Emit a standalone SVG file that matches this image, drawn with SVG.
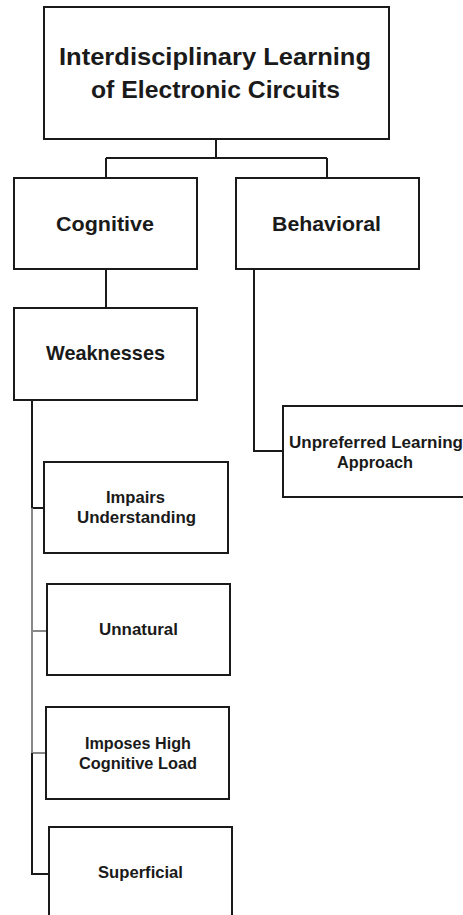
<svg xmlns="http://www.w3.org/2000/svg" width="463" height="915" viewBox="0 0 463 915">
<style>
.box{fill:#fff;stroke:#1a1a1a;stroke-width:2}
.t{font-family:"Liberation Sans",Arial,sans-serif;font-weight:bold;fill:#1a1a1a;text-anchor:middle}
.big{font-size:24px}
.mid{font-size:21px}
.sm{font-size:16.5px}
.c{fill:none;stroke:#1a1a1a;stroke-width:2}
.g{fill:none;stroke:#888;stroke-width:2}
</style>
<rect width="463" height="915" fill="#fff"/>
<g id="connectors">
<path class="c" d="M216,139 V158 M106,158 H327 M106,158 V178 M327,158 V178"/>
<path class="c" d="M106,269 V308"/>
<path class="c" d="M254,269 V451 H283"/>
<path class="c" d="M32,400 V508 H44"/>
<path class="g" d="M32,508 V753 M32,631 H47 M32,753 H46"/>
<path class="c" d="M32,753 V874 H49"/>
</g>
<g id="root">
<rect class="box" x="44" y="7" width="345" height="132"/>
<text class="t big" x="215" y="65" textLength="312" lengthAdjust="spacingAndGlyphs">Interdisciplinary Learning</text>
<text class="t big" x="215.5" y="98" textLength="249" lengthAdjust="spacingAndGlyphs">of Electronic Circuits</text>
</g>
<g id="cognitive">
<rect class="box" x="14" y="178" width="183" height="91"/>
<text class="t mid" x="105" y="231" textLength="98" lengthAdjust="spacingAndGlyphs">Cognitive</text>
</g>
<g id="behavioral">
<rect class="box" x="236" y="178" width="183" height="91"/>
<text class="t mid" x="326.5" y="231" textLength="109" lengthAdjust="spacingAndGlyphs">Behavioral</text>
</g>
<g id="weaknesses">
<rect class="box" x="14" y="308" width="183" height="92"/>
<text class="t mid" x="105.5" y="360" textLength="119" lengthAdjust="spacingAndGlyphs">Weaknesses</text>
</g>
<g id="unpreferred">
<rect class="box" x="283" y="406" width="184" height="91"/>
<text class="t sm" x="376" y="448" textLength="174" lengthAdjust="spacingAndGlyphs">Unpreferred Learning</text>
<text class="t sm" x="375" y="468" textLength="76" lengthAdjust="spacingAndGlyphs">Approach</text>
</g>
<g id="impairs">
<rect class="box" x="44" y="462" width="184" height="91"/>
<text class="t sm" x="135.5" y="503" textLength="59" lengthAdjust="spacingAndGlyphs">Impairs</text>
<text class="t sm" x="136.5" y="523" textLength="119" lengthAdjust="spacingAndGlyphs">Understanding</text>
</g>
<g id="unnatural">
<rect class="box" x="47" y="584" width="183" height="91"/>
<text class="t sm" x="138.5" y="635" textLength="79" lengthAdjust="spacingAndGlyphs">Unnatural</text>
</g>
<g id="imposes">
<rect class="box" x="46" y="707" width="183" height="92"/>
<text class="t sm" x="138" y="749" textLength="106" lengthAdjust="spacingAndGlyphs">Imposes High</text>
<text class="t sm" x="138" y="769" textLength="118" lengthAdjust="spacingAndGlyphs">Cognitive Load</text>
</g>
<g id="superficial">
<rect class="box" x="49" y="827" width="183" height="92"/>
<text class="t sm" x="140.5" y="878" textLength="85" lengthAdjust="spacingAndGlyphs">Superficial</text>
</g>
</svg>
